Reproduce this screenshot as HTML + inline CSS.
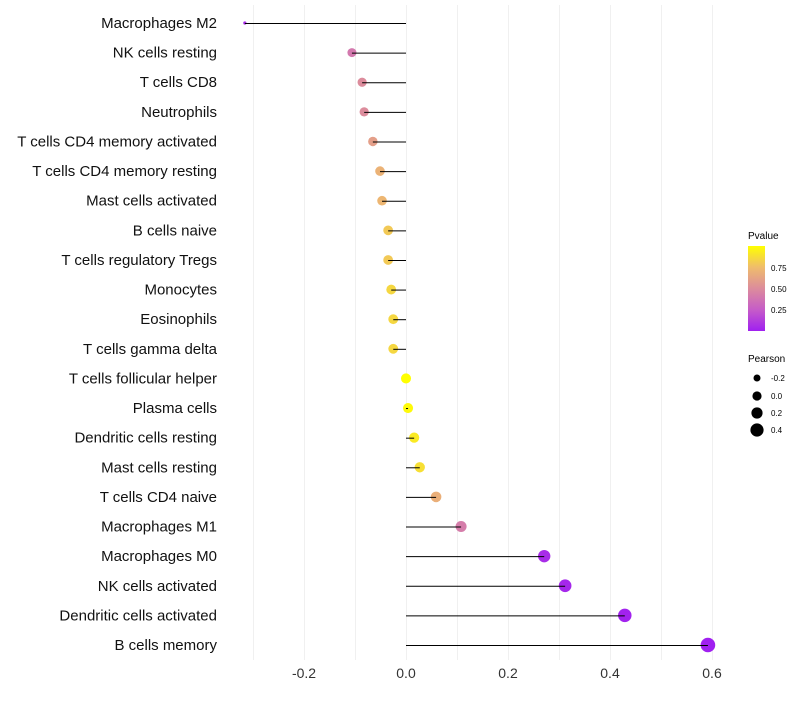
<!DOCTYPE html>
<html><head><meta charset="utf-8"><style>
body{margin:0;background:#fff;font-family:"Liberation Sans",sans-serif}
</style></head><body>
<svg id="c" width="800" height="700" xmlns="http://www.w3.org/2000/svg">
<defs><linearGradient id="pg" x1="0" y1="1" x2="0" y2="0">
<stop offset="0" stop-color="#A020F0"/><stop offset="0.25" stop-color="#C65CC8"/><stop offset="0.5" stop-color="#DC8C9C"/><stop offset="0.75" stop-color="#EFBC6C"/><stop offset="1" stop-color="#FFFF00"/></linearGradient></defs>
<g id="grid"></g><g id="marks"></g><g id="labels"></g>
<g>
<text x="748" y="239" font-size="10">Pvalue</text>
<rect x="748" y="246" width="17" height="85" fill="url(#pg)"/>
<text x="771" y="271" font-size="8">0.75</text><text x="771" y="292" font-size="8">0.50</text><text x="771" y="313" font-size="8">0.25</text>
</g>
<g>
<text x="748" y="362" font-size="10">Pearson</text>
<circle cx="757" cy="378" r="3.5"/><text x="771" y="381" font-size="8">-0.2</text>
<circle cx="757" cy="396" r="4.6"/><text x="771" y="399" font-size="8">0.0</text>
<circle cx="757" cy="413" r="5.6"/><text x="771" y="416" font-size="8">0.2</text>
<circle cx="757" cy="430" r="6.6"/><text x="771" y="433" font-size="8">0.4</text>
</g>
</svg>
<script>
const cells=["Macrophages M2","NK cells resting","T cells CD8","Neutrophils","T cells CD4 memory activated","T cells CD4 memory resting","Mast cells activated","B cells naive","T cells regulatory  Tregs ","Monocytes","Eosinophils","T cells gamma delta","T cells follicular helper","Plasma cells","Dendritic cells resting","Mast cells resting","T cells CD4 naive","Macrophages M1","Macrophages M0","NK cells activated","Dendritic cells activated","B cells memory"];
const pearson=[-0.316,-0.106,-0.086,-0.082,-0.065,-0.051,-0.047,-0.035,-0.035,-0.029,-0.025,-0.025,0.0,0.004,0.016,0.027,0.059,0.108,0.271,0.312,0.429,0.592];
const pvalue=[0.05,0.4,0.5,0.5,0.6,0.7,0.72,0.8,0.8,0.85,0.85,0.85,1.0,0.98,0.92,0.88,0.68,0.42,0.05,0.03,0.01,0.002];
const ticks=[-0.2,0,0.2,0.4,0.6];
const grid=[-0.3,-0.2,-0.1,0,0.1,0.2,0.3,0.4,0.5,0.6];
const NS="http://www.w3.org/2000/svg";
const x=v=>406+v*510;
const y=i=>23+i*(622/21);
const r=p=>p<-0.25?1.6:Math.sqrt(Math.max(25.3+47.3*p,4));
const stops=[[0,[160,32,240]],[0.25,[198,92,200]],[0.5,[220,140,156]],[0.75,[239,188,108]],[1,[255,255,0]]];
function col(p){for(let k=0;k<4;k++){const a=stops[k],b=stops[k+1];if(p<=b[0]){const t=(p-a[0])/(b[0]-a[0]);return`rgb(${a[1].map((c,j)=>Math.round(c+(b[1][j]-c)*t)).join(",")})`;}}return"rgb(255,255,0)";}
function el(t,a,p){const e=document.createElementNS(NS,t);for(const k in a)e.setAttribute(k,a[k]);p.appendChild(e);return e;}
const G=document.getElementById("grid"),M=document.getElementById("marks"),L=document.getElementById("labels");
grid.forEach(g=>{const l=el("line",{x1:Math.round(x(g))+0.5,x2:Math.round(x(g))+0.5,y1:5,y2:660,stroke:"#f0f0f0","stroke-width":1},G);

});
ticks.forEach(t=>{const e=el("text",{x:x(t),y:678,"text-anchor":"middle","font-size":14,fill:"#333"},L);e.textContent=t===0?"0.0":t.toFixed(1);

});
cells.forEach((c,i)=>{
const lab=el("text",{x:217,y:y(i)+5,"text-anchor":"end","font-size":15,fill:"#111","xml:space":"preserve"},L);lab.textContent=c;


const d=el("circle",{cx:x(pearson[i]),cy:y(i),r:r(pearson[i]),fill:col(pvalue[i])},M);


const s=el("line",{x1:x(0),x2:x(pearson[i]),y1:y(i)+0.5,y2:y(i)+0.5,stroke:"#000","stroke-width":1},M);


});
</script>
</body></html>
